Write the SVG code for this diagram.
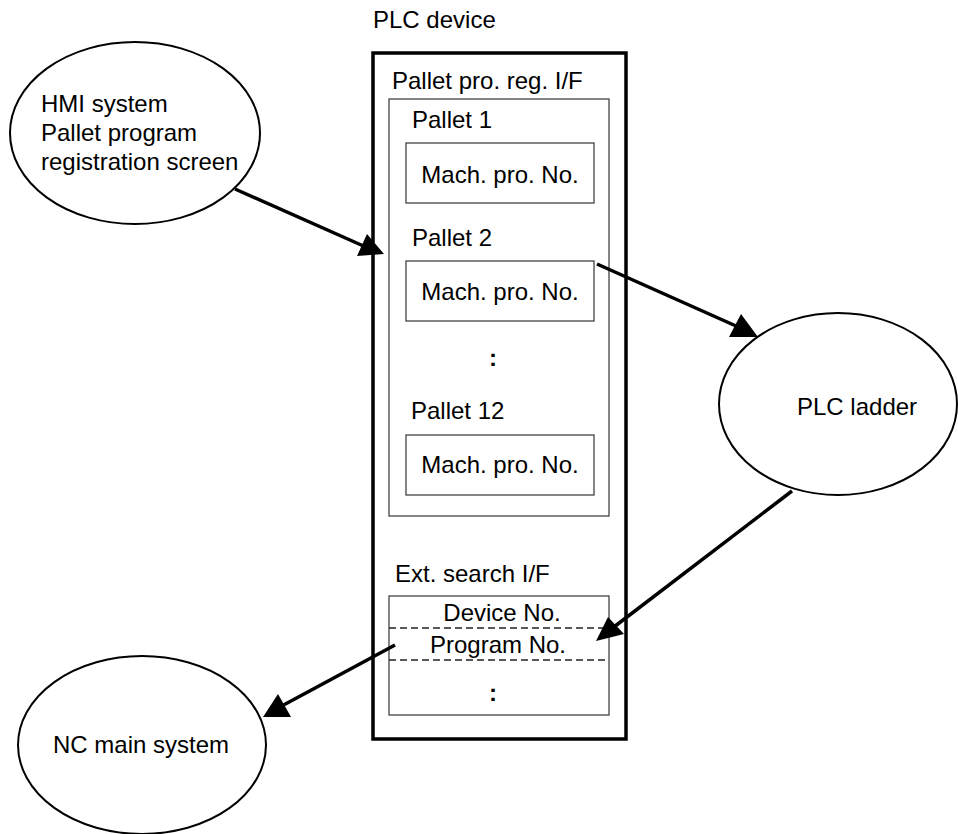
<svg xmlns="http://www.w3.org/2000/svg" width="958" height="834" viewBox="0 0 958 834">
<defs>
<style>
text{font-family:"Liberation Sans",Arial,sans-serif;font-size:24px;fill:#000}
.colon{font-weight:bold}
.ell{fill:#fff;stroke:#000;stroke-width:2}
.thin{fill:none;stroke:#444;stroke-width:1.3}
.dash{stroke:#222;stroke-width:1.3;stroke-dasharray:7,4}
.conn{stroke:#000;stroke-width:3.5;fill:none}
.head{fill:#000;stroke:none}
</style>
</defs>
<rect width="958" height="834" fill="#fff"/>
<g id="plc-device">
<text x="373" y="28">PLC device</text>
<rect x="373" y="53" width="253" height="686" fill="none" stroke="#000" stroke-width="3.5"/>
</g>
<g id="pallet-reg-if">
<text x="392" y="89">Pallet pro. reg. I/F</text>
<rect x="389" y="99" width="220" height="417" class="thin"/>
<text x="412" y="128">Pallet 1</text>
<rect x="406" y="143" width="188" height="60" class="thin"/>
<text x="500" y="183" text-anchor="middle">Mach. pro. No.</text>
<text x="412" y="246">Pallet 2</text>
<rect x="406" y="261" width="188" height="60" class="thin"/>
<text x="500" y="300" text-anchor="middle">Mach. pro. No.</text>
<text x="493" y="366" text-anchor="middle" class="colon">:</text>
<text x="411" y="419">Pallet 12</text>
<rect x="406" y="435" width="188" height="60" class="thin"/>
<text x="500" y="473" text-anchor="middle">Mach. pro. No.</text>
</g>
<g id="ext-search-if">
<text x="395" y="582">Ext. search I/F</text>
<rect x="389" y="596" width="220" height="119" class="thin"/>
<line x1="389" y1="628" x2="609" y2="628" class="dash"/>
<line x1="389" y1="660" x2="609" y2="660" class="dash"/>
<text x="502" y="621" text-anchor="middle">Device No.</text>
<text x="498" y="653" text-anchor="middle">Program No.</text>
<text x="493" y="701" text-anchor="middle" class="colon">:</text>
</g>
<g id="hmi">
<ellipse cx="135" cy="133" rx="125" ry="91" class="ell"/>
<text x="41" y="112">HMI system</text>
<text x="41" y="141">Pallet program</text>
<text x="41" y="170">registration screen</text>
</g>
<g id="plc-ladder">
<ellipse cx="838" cy="404" rx="119" ry="91" class="ell"/>
<text x="797" y="415">PLC ladder</text>
</g>
<g id="nc-main">
<ellipse cx="142" cy="745" rx="124" ry="89" class="ell"/>
<text x="53" y="753">NC main system</text>
</g>
<g id="connectors">
<line x1="235" y1="189" x2="368" y2="248" class="conn"/>
<polygon points="357,256 367,234 384,254" class="head"/>
<line x1="597" y1="264" x2="745" y2="330" class="conn"/>
<polygon points="729,337 741,314 758,337" class="head"/>
<line x1="792" y1="491" x2="610" y2="630" class="conn"/>
<polygon points="596,641 608,617 624,634" class="head"/>
<line x1="395" y1="645" x2="278" y2="708" class="conn"/>
<polygon points="263,717 278,694 291,717" class="head"/>
</g>
</svg>
